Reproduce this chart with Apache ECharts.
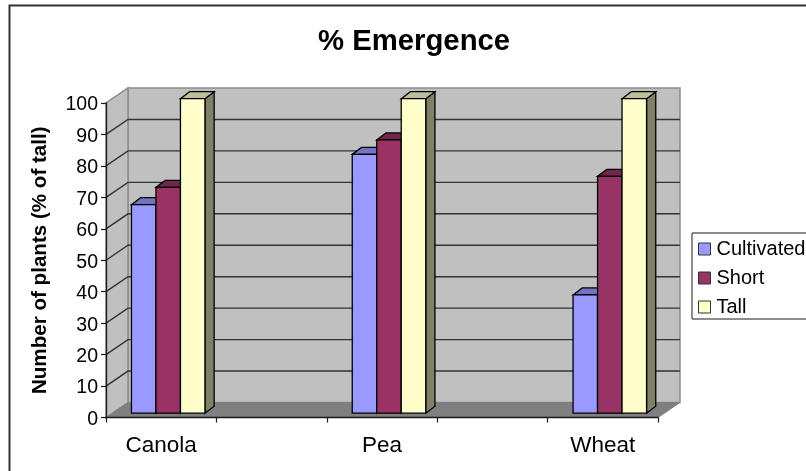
<!DOCTYPE html>
<html>
<head>
<meta charset="utf-8">
<style>html,body{margin:0;padding:0;background:#fff;overflow:hidden}#c{width:806px;height:471px}</style>
<script src="https://cdn.jsdelivr.net/npm/echarts@6/dist/echarts.min.js"></script>
</head>
<body>
<div id="c"></div>
<script>
const categories = ['Canola', '', 'Pea', '', 'Wheat'];
const seriesNames = ['Cultivated', 'Short', 'Tall'];
const cultivated = [[0, 66.3], [2, 82.3], [4, 37.6]];
const short = [[0, 71.8], [2, 86.9], [4, 75.3]];
const tall = [[0, 100], [2, 100], [4, 100]];
const valueTicks = [0, 10, 20, 30, 40, 50, 60, 70, 80, 90, 100];

const fills = ['#9999ff', '#993366', '#ffffcc'];
const tops = ['#7373bf', '#73264d', '#bfbf99'];
const sides = ['#666699', '#4d1a33', '#808066'];

const FONT = '"Liberation Sans", Arial, sans-serif';
const WALL_DX = 22, WALL_DY = 15;
const BAR_W = 24.5, BAR_DX = 9.2, BAR_DY = 7, FRONT_DX = 7, FRONT_DY = 4.3;

function wallItem(params, api) {
  const cs = params.coordSys;
  const v = api.value(0);
  const y = api.coord([0, v])[1];
  const x0 = cs.x, x1 = cs.x + cs.width;
  const kids = [];
  if (params.dataIndex === 0) {
    const yB = api.coord([0, 0])[1], yT = api.coord([0, 100])[1];
    const edge = { stroke: '#8c8c8c', lineWidth: 1.5 };
    kids.push({ type: 'polygon', shape: { points: [[x0 + WALL_DX, yB - WALL_DY], [x1 + WALL_DX, yB - WALL_DY], [x1 + WALL_DX, yT - WALL_DY], [x0 + WALL_DX, yT - WALL_DY]] }, style: Object.assign({ fill: '#c0c0c0' }, edge) });
    kids.push({ type: 'polygon', shape: { points: [[x0, yB], [x0 + WALL_DX, yB - WALL_DY], [x0 + WALL_DX, yT - WALL_DY], [x0, yT]] }, style: Object.assign({ fill: '#c0c0c0' }, edge) });
    kids.push({ type: 'polygon', shape: { points: [[x0, yB], [x1, yB], [x1 + WALL_DX, yB - WALL_DY], [x0 + WALL_DX, yB - WALL_DY]] }, style: { fill: '#808080', stroke: '#808080', lineWidth: 1 } });
  }
  if (v > 0 && v < 100) {
    kids.push({ type: 'polyline', shape: { points: [[x0, y], [x0 + WALL_DX, y - WALL_DY], [x1 + WALL_DX, y - WALL_DY]] }, style: { stroke: '#333333', lineWidth: 1.4, fill: 'none' } });
  }
  return { type: 'group', children: kids };
}

function barRenderer(s) {
  return function (params, api) {
    const cat = api.value(0), val = api.value(1);
    const c = api.coord([cat, val]);
    const base = api.coord([cat, 0])[1];
    const xl = c[0] + FRONT_DX - 1.5 * BAR_W + s * BAR_W;
    const xr = xl + BAR_W;
    const yt = c[1] - FRONT_DY, yb = base - FRONT_DY;
    const line = { stroke: '#000', lineWidth: 1.3, lineJoin: 'miter' };
    return { type: 'group', children: [
      { type: 'polygon', shape: { points: [[xr, yt], [xr + BAR_DX, yt - BAR_DY], [xr + BAR_DX, yb - BAR_DY], [xr, yb]] }, style: Object.assign({ fill: sides[s] }, line) },
      { type: 'polygon', shape: { points: [[xl, yt], [xl + BAR_DX, yt - BAR_DY], [xr + BAR_DX, yt - BAR_DY], [xr, yt]] }, style: Object.assign({ fill: tops[s] }, line) },
      { type: 'rect', shape: { x: xl, y: yt, width: BAR_W, height: yb - yt }, style: Object.assign({ fill: fills[s] }, line) }
    ] };
  };
}

const chart = echarts.init(document.getElementById('c'), null, { renderer: 'canvas' });
const axisLine = { show: true, lineStyle: { color: '#1a1a1a', width: 1.3 } };
chart.setOption({
  animation: false,
  backgroundColor: '#fff',
  title: { text: '% Emergence', left: 318, top: 27,
    textStyle: { fontFamily: FONT, fontSize: 29.3, fontWeight: 'bold', color: '#000' }, padding: 0 },
  graphic: [{ type: 'rect', silent: true, z: -10, shape: { x: 9.5, y: 5.5, width: 900, height: 600 },
    style: { fill: 'none', stroke: '#333', lineWidth: 2 } }],
  grid: { left: 106, top: 103, width: 552, height: 314.5 },
  legend: {
    data: seriesNames, orient: 'vertical', left: 692, top: 233, icon: 'rect',
    itemWidth: 12, itemHeight: 12, itemGap: 9, padding: [6, 8, 2, 6],
    borderColor: '#1a1a1a', borderWidth: 1, backgroundColor: '#fff',
    itemStyle: { borderColor: '#333', borderWidth: 1 },
    textStyle: { fontFamily: FONT, fontSize: 20, color: '#000', padding: [0, 0, 0, 1] }
  },
  xAxis: { type: 'category', data: categories, boundaryGap: true, z: 5,
    axisLine, axisTick: { show: true, length: 5, interval: 0, lineStyle: { color: '#1a1a1a', width: 1.2 } },
    axisLabel: { interval: 0, margin: 17, fontFamily: FONT, fontSize: 22.5, color: '#000' },
    splitLine: { show: false } },
  yAxis: { type: 'value', min: 0, max: 100, interval: 10, z: 5,
    name: 'Number of plants (% of tall)', nameLocation: 'middle', nameGap: 55,
    nameTextStyle: { fontFamily: FONT, fontSize: 20.6, fontWeight: 'bold', color: '#000' },
    axisLine, axisTick: { show: true, length: 5, lineStyle: { color: '#1a1a1a', width: 1.2 } },
    axisLabel: { margin: 8, formatter: '{a|{value}}',
      rich: { a: { fontFamily: FONT, fontSize: 19.5, color: '#000', padding: [4, 0, 0, 0] } } },
    splitLine: { show: false } },
  series: [
    { type: 'custom', silent: true, z: 1, clip: false, data: valueTicks.map(v => [v]), encode: { y: 0 }, renderItem: wallItem, legendHoverLink: false, tooltip: { show: false } },
    { name: seriesNames[0], type: 'custom', z: 2, clip: false, itemStyle: { color: fills[0] }, data: cultivated, encode: { x: 0, y: 1 }, renderItem: barRenderer(0) },
    { name: seriesNames[1], type: 'custom', z: 2, clip: false, itemStyle: { color: fills[1] }, data: short, encode: { x: 0, y: 1 }, renderItem: barRenderer(1) },
    { name: seriesNames[2], type: 'custom', z: 2, clip: false, itemStyle: { color: fills[2] }, data: tall, encode: { x: 0, y: 1 }, renderItem: barRenderer(2) }
  ]
});
</script>
</body>
</html>
